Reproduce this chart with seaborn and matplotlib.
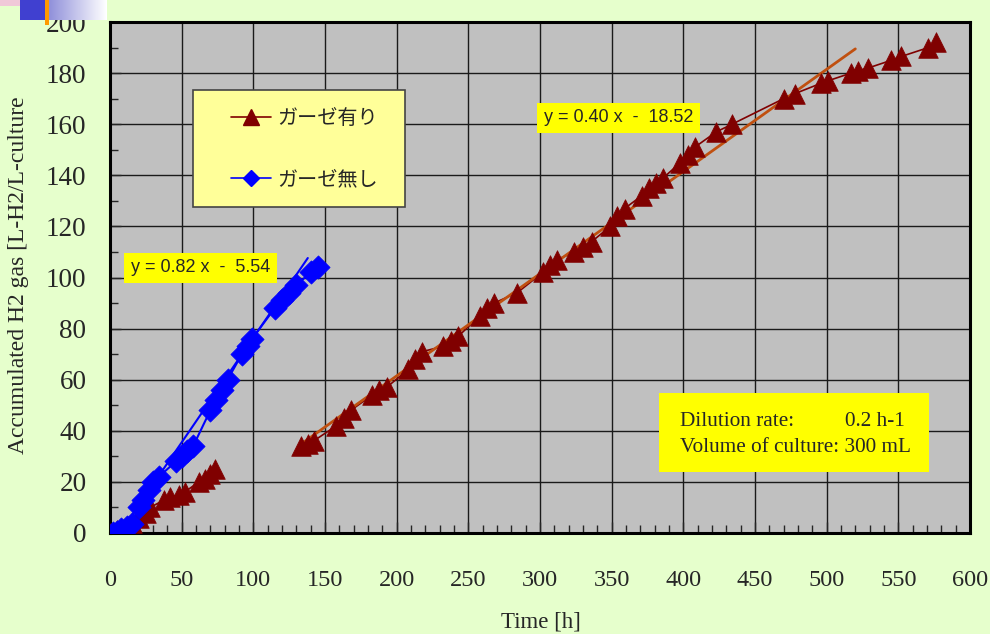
import numpy as np
import pandas as pd
import matplotlib
matplotlib.use("Agg")
import matplotlib.pyplot as plt
import matplotlib.patches as mpatches
import seaborn as sns
from matplotlib.ticker import MultipleLocator

# ---------------- data ----------------
gauze_x1 = [0, 5, 15, 20, 25, 28, 38, 42, 48, 52, 62, 66, 70, 73]
gauze_y1 = [0, 1, 4, 6, 8, 10, 13, 14, 15, 16, 20, 21, 23, 25]
gauze_x2 = [133, 138, 142, 158, 163, 168, 183, 188, 193, 208, 213, 218, 232, 238,
            243, 258, 263, 268, 284, 302, 307, 312, 324, 330, 336, 349, 354, 359,
            371, 376, 381, 386, 398, 403, 408, 423, 434, 470, 478, 496, 501, 517,
            522, 529, 545, 552, 571, 576]
gauze_y2 = [34, 35, 36, 42, 45, 48, 54, 56, 57, 64, 68, 71, 73, 75,
            77, 85, 88, 90, 94, 102, 105, 107, 110, 112, 114, 120, 124, 127,
            132, 135, 137, 139, 145, 148, 151, 157, 160, 170, 172, 176, 177, 180,
            181, 182, 185, 186.5, 190, 192]
nogauze_x = [2, 5, 8, 12, 15, 20, 23, 27, 30, 34, 46, 50, 54, 58, 70, 74, 78, 82,
             92, 96, 99, 115, 120, 125, 130, 140, 145]
nogauze_y = [0, 0.5, 1.5, 2.5, 3.5, 10, 13, 17, 20, 22, 28, 30, 32, 34, 48, 52, 56, 60,
             70, 73, 76, 88, 91, 94, 97, 102, 104]

label_yes = "ガーゼ有り"
label_no = "ガーゼ無し"

# trend lines (from the equations shown on the chart)
trend_yes = (0.40, -18.52)
trend_yes_x = [135, 520]
trend_no = (0.82, -5.54)
trend_no_x = [5, 138]

x_ticks = list(range(0, 601, 50))
y_ticks = list(range(0, 201, 20))

# ---------------- figure ----------------
sns.set_style("white")
plt.rcParams['font.family'] = ['Liberation Serif', 'Noto Sans CJK JP', 'DejaVu Sans']

fig = plt.figure(figsize=(9.9, 6.34), dpi=100, facecolor='#E6FFCC')
ax = fig.add_axes([110/990, 101/634, 860/990, 511/634])
ax.set_facecolor('#C0C0C0')

brown = '#800000'
blue = '#0000FF'
trend_brown = '#C05010'

df_yes = pd.DataFrame({'x': gauze_x1 + [np.nan] + gauze_x2,
                       'y': gauze_y1 + [np.nan] + gauze_y2})
df_no = pd.DataFrame({'x': nogauze_x, 'y': nogauze_y})

# data lines
ax.plot(gauze_x1, gauze_y1, color=brown, lw=1.2, zorder=3)
ax.plot(gauze_x2, gauze_y2, color=brown, lw=1.2, zorder=3)
sns.lineplot(data=df_no, x='x', y='y', ax=ax, color=blue, lw=1.5, sort=False,
             estimator=None, zorder=3)

# trend lines
ty = [trend_yes[0]*v + trend_yes[1] for v in trend_yes_x]
tn = [trend_no[0]*v + trend_no[1] for v in trend_no_x]
ax.plot(trend_yes_x, ty, color=trend_brown, lw=2, zorder=3)
ax.plot(trend_no_x, tn, color=blue, lw=1.5, zorder=3)

# markers
sns.scatterplot(data=df_yes.dropna(), x='x', y='y', ax=ax, marker='^', s=200,
                color=brown, edgecolor=brown, linewidth=0.5, zorder=4, legend=False)
sns.scatterplot(data=df_no, x='x', y='y', ax=ax, marker='D', s=140,
                color=blue, edgecolor=blue, linewidth=0.5, zorder=4, legend=False)

ax.set_xlim(0, 600)
ax.set_ylim(0, 200)
ax.set_xticks(x_ticks)
ax.set_yticks(y_ticks)
ax.xaxis.set_minor_locator(MultipleLocator(10))
ax.yaxis.set_minor_locator(MultipleLocator(10))
ax.grid(True, which='major', color='#1a1a1a', lw=1.0, zorder=1)
ax.set_axisbelow(True)
ax.tick_params(axis='x', which='major', direction='in', length=8, width=1,
               labelsize=17.5, pad=27, bottom=True)
ax.tick_params(axis='x', which='minor', direction='in', length=6, width=1, bottom=True)
ax.tick_params(axis='y', which='major', direction='in', length=8, width=1,
               labelsize=19.5, pad=17, left=True)
ax.tick_params(axis='y', which='minor', direction='in', length=6, width=1, left=True)
for s in ax.spines.values():
    s.set_color('black')
    s.set_linewidth(2.2)
    s.set_visible(True)

ax.set_xlabel('Time [h]', fontsize=16.5)
ax.xaxis.set_label_coords((541-110)/860, -(622-533)/511)
ax.set_ylabel('Accumulated H2 gas [L-H2/L-culture', fontsize=17)
ax.yaxis.set_label_coords(-(110-19)/860, (533-275)/511)
ax.xaxis.label.set_va('center')
ax.yaxis.label.set_va('center')

# legend box (drawn as a patch) + frameless legend
ax.add_patch(mpatches.Rectangle(((193-110)/860, (533-207)/511), 212/860, 117/511,
                                transform=ax.transAxes, facecolor='#FFFF99',
                                edgecolor='#444444', lw=1.2, zorder=6))
h_yes = plt.Line2D([], [], color=brown, lw=1.2, marker='^', ms=11, mec=brown)
h_no = plt.Line2D([], [], color=blue, lw=1.2, marker='D', ms=8, mec=blue)
leg = ax.legend([h_yes, h_no], [label_yes, label_no], loc='upper left',
                bbox_to_anchor=((231-110)/860, (533-108)/511), frameon=False,
                prop={'family': ['Noto Sans CJK JP'], 'size': 14.5},
                labelspacing=2.0, borderpad=0, handlelength=2.0,
                handletextpad=0.3, borderaxespad=0)
leg.set_zorder(7)

# equation labels
ax.text((131-110)/860, (533-268)/511, 'y = 0.82 x  -  5.54', transform=ax.transAxes,
        fontsize=13, family='Liberation Sans', va='center', ha='left', zorder=7,
        bbox=dict(facecolor='#FFFF00', edgecolor='none', pad=5))
ax.text((544-110)/860, (533-118)/511, 'y = 0.40 x  -  18.52', transform=ax.transAxes,
        fontsize=13, family='Liberation Sans', va='center', ha='left', zorder=7,
        bbox=dict(facecolor='#FFFF00', edgecolor='none', pad=5))

# dilution box
ax.add_patch(mpatches.Rectangle(((659-110)/860, (533-472)/511), 270/860, 79/511,
                                transform=ax.transAxes, facecolor='#FFFF00',
                                edgecolor='none', zorder=7))
ax.text((680-110)/860, (533-421)/511, 'Dilution rate:', transform=ax.transAxes,
        fontsize=15.3, va='center', ha='left', zorder=8)
ax.text((845-110)/860, (533-421)/511, '0.2 h-1', transform=ax.transAxes,
        fontsize=15.3, va='center', ha='left', zorder=8)
ax.text((680-110)/860, (533-448)/511, 'Volume of culture: 300 mL', transform=ax.transAxes,
        fontsize=15.3, va='center', ha='left', zorder=8)

# top-left template decoration
def fig_rect(x0, y0, w, h, color):
    fig.add_artist(mpatches.Rectangle((x0/990, 1-(y0+h)/634), w/990, h/634,
                                      transform=fig.transFigure, facecolor=color,
                                      edgecolor='none'))
fig_rect(0, 0, 36, 6, '#F0C8D8')
fig_rect(20, 0, 27, 20, '#4040D0')
grad = np.linspace(0, 1, 60)
for i, g in enumerate(grad):
    c = (0.55 + 0.45*g, 0.55 + 0.45*g, 0.85 + 0.15*g)
    fig_rect(47 + i, 0, 1.2, 20, c)
fig_rect(45, 0, 4, 25, '#FF9900')

fig.savefig('out.png', dpi=100, facecolor=fig.get_facecolor())
